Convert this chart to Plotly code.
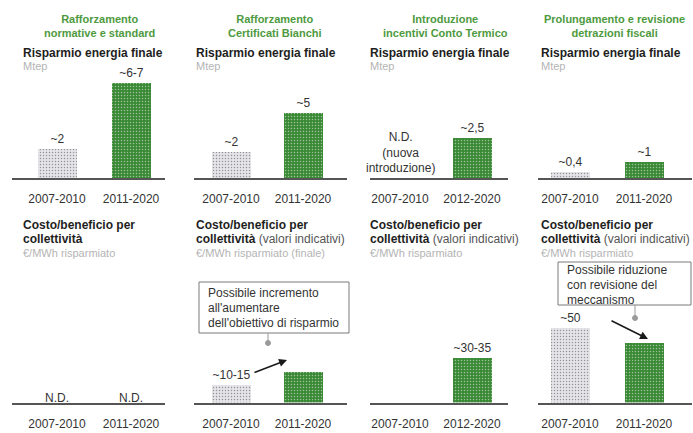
import plotly.graph_objects as go

W, H = 693, 433
FONT = "Liberation Sans, Arial, sans-serif"
GREEN = "#3a8935"
GREEN_DARK = "#32792e"
GREY_BAR = "#e4e4e9"
GREY_BAR_DOT = "#d9d9df"
TITLE_GREEN = "#4e9a3e"
UNIT_GREY = "#b4b4b4"
TEXT = "#333333"

# ---- data -------------------------------------------------------------
panel_titles = [
    "Rafforzamento<br>normative e standard",
    "Rafforzamento<br>Certificati Bianchi",
    "Introduzione<br>incentivi Conto Termico",
    "Prolungamento e revisione<br>detrazioni fiscali",
]
periods = [
    ["2007-2010", "2011-2020"],
    ["2007-2010", "2011-2020"],
    ["2007-2010", "2012-2020"],
    ["2007-2010", "2011-2020"],
]
# final energy savings, Mtep
saving_values = [[2, 6.5], [2, 5], [None, 2.5], [0.4, 1]]
saving_labels = [["~2", "~6-7"], ["~2", "~5"], ["", "~2,5"], ["~0,4", "~1"]]
saving_notes = [[None, None], [None, None], ["N.D.<br>(nuova<br>introduzione)", None], [None, None]]
# cost/benefit, EUR per MWh saved
cost_values = [[None, None], [12.5, 22], [None, 32.5], [50, 40]]
cost_labels = [["", ""], ["~10-15", ""], ["", "~30-35"], ["~50", ""]]
cost_notes = [["N.D.", "N.D."], [None, None], [None, None], [None, None]]
cost_units = ["€/MWh risparmiato", "€/MWh risparmiato (finale)",
              "€/MWh risparmiato", "€/MWh risparmiato"]
cost_qualifier = ["", " (valori indicativi)", " (valori indicativi)", " (valori indicativi)"]
box_texts = [
    None,
    "Possibile incremento<br>all'aumentare<br>dell'obiettivo di risparmio",
    None,
    "Possibile riduzione<br>con revisione del<br>meccanismo",
]

# ---- layout geometry (pixels) -----------------------------------------
axis_span = [(12, 165), (194, 347), (370, 508), (538, 692)]
bar_centres = [(57, 131), (231, 303), (400, 472), (570, 644)]
header_x = [21, 194, 368, 539]
title_cx = [100, 275, 445, 614]
top_row = dict(base=178, top=70, scale=[14.6, 13.0, 16.0, 16.0])
bot_row = dict(base=402.5, top=290, scale=[1.4, 1.37, 1.38, 1.5])
BAR_PX = 39


def fx(p):
    return p / W


def fy(p):
    return 1 - p / H


fig = go.Figure()
layout = dict(
    width=W, height=H, margin=dict(l=0, r=0, t=0, b=0),
    paper_bgcolor="white", plot_bgcolor="white", showlegend=False,
    font=dict(family=FONT, size=12, color=TEXT),
    bargap=0,
)
annotations, shapes = [], []


def add_panel(idx, row, values, labels, cats, notes, panel, note_shift):
    n = idx + 1
    xname = "x" if n == 1 else f"x{n}"
    yname = "y" if n == 1 else f"y{n}"
    d0, d1 = axis_span[panel]
    c0, c1 = bar_centres[panel]
    step = c1 - c0
    xr = [-(c0 - d0) / step, 1 + (d1 - c1) / step]
    ymax = (row["base"] - row["top"]) / row["scale"][panel]
    fig.add_trace(go.Bar(
        x=[0, 1], y=values, xaxis=xname, yaxis=yname,
        width=BAR_PX / step,
        marker=dict(color=[GREY_BAR, GREEN], line=dict(width=0),
                    pattern=dict(shape=".", fgcolor=[GREY_BAR_DOT, GREEN_DARK],
                                 size=3, solidity=0.2)),
        text=labels, textposition="outside", cliponaxis=False,
        textfont=dict(size=12, color=TEXT, family=FONT),
        hoverinfo="skip",
    ))
    layout["xaxis" if n == 1 else f"xaxis{n}"] = dict(
        domain=[fx(d0), fx(d1)], anchor=yname, range=xr,
        tickvals=[0, 1], ticktext=cats, ticks="outside", ticklen=9,
        tickcolor="rgba(0,0,0,0)", tickfont=dict(size=12, color=TEXT),
        showline=True, linecolor="#555555", linewidth=1.5,
        showgrid=False, zeroline=False, fixedrange=True,
    )
    layout["yaxis" if n == 1 else f"yaxis{n}"] = dict(
        domain=[fy(row["base"]), fy(row["top"])], anchor=xname,
        range=[0, ymax], visible=False, fixedrange=True,
    )
    for k, note in enumerate(notes):
        if note:
            annotations.append(dict(
                xref=xname, yref=yname, x=k, y=0, yanchor="bottom",
                text=note, showarrow=False, yshift=note_shift,
                font=dict(size=12, color=TEXT),
            ))


for p in range(4):
    add_panel(p, top_row, saving_values[p], saving_labels[p], periods[p], saving_notes[p], p, 1)
    add_panel(p + 4, bot_row, cost_values[p], cost_labels[p], periods[p], cost_notes[p], p, -4)


def text_at(x, y, text, size=12, color=TEXT, xanchor="left", align="left"):
    annotations.append(dict(
        xref="paper", yref="paper", x=fx(x), y=fy(y), xanchor=xanchor,
        yanchor="middle", text=text, showarrow=False, align=align,
        font=dict(size=size, color=color, family=FONT),
    ))


for p in range(4):
    # panel heading
    text_at(title_cx[p], 26, f"<b>{panel_titles[p]}</b>", size=11,
            color=TITLE_GREEN, xanchor="center", align="center")
    # savings header
    text_at(header_x[p], 53, "<b>Risparmio energia finale</b>", color="#1e1e1e")
    text_at(header_x[p], 66, "Mtep", size=11, color=UNIT_GREY)
    # cost header
    text_at(header_x[p], 225, "<b>Costo/beneficio per</b>", color="#1e1e1e")
    text_at(header_x[p], 239, "<b>collettività</b>"
            + (f"<span style='color:#555'>{cost_qualifier[p]}</span>" if cost_qualifier[p] else ""),
            color="#1e1e1e")
    text_at(header_x[p], 253, cost_units[p], size=11, color=UNIT_GREY)

# callout boxes with connector, dot and arrow
callouts = [
    dict(panel=1, box=(199, 282, 349, 333), tx=206, ty=[293, 308, 323],
         conn_x=268, dot_y=343, tail=(253, 373), head=(287, 360)),
    dict(panel=3, box=(558, 262, 691, 305), tx=565, ty=[270, 285, 300],
         conn_x=635, dot_y=318, tail=(610, 320), head=(648, 339)),
]
for c in callouts:
    x0, y0, x1, y1 = c["box"]
    shapes.append(dict(type="rect", xref="paper", yref="paper",
                       x0=fx(x0), x1=fx(x1), y0=fy(y1), y1=fy(y0),
                       line=dict(color="#7a7a7a", width=1), fillcolor="white"))
    for line, yy in zip(box_texts[c["panel"]].split("<br>"), c["ty"]):
        text_at(c["tx"], yy, line, size=12, color=TEXT)
    shapes.append(dict(type="line", xref="paper", yref="paper",
                       x0=fx(c["conn_x"]), x1=fx(c["conn_x"]),
                       y0=fy(y1), y1=fy(c["dot_y"]),
                       line=dict(color="#9a9a9a", width=1)))
    shapes.append(dict(type="circle", xref="paper", yref="paper",
                       x0=fx(c["conn_x"] - 2.5), x1=fx(c["conn_x"] + 2.5),
                       y0=fy(c["dot_y"] + 2.5), y1=fy(c["dot_y"] - 2.5),
                       line=dict(color="#9a9a9a", width=1), fillcolor="#9a9a9a"))
    hx, hy = c["head"]
    tx, ty = c["tail"]
    annotations.append(dict(
        xref="paper", yref="paper", x=fx(hx), y=fy(hy),
        axref="pixel", ayref="pixel", ax=tx - hx, ay=ty - hy,
        showarrow=True, arrowhead=2, arrowsize=1, arrowwidth=1.6,
        arrowcolor="#1a1a1a", text="",
    ))

layout["annotations"] = annotations
layout["shapes"] = shapes
fig.update_layout(**layout)
fig.write_html("out.html")
